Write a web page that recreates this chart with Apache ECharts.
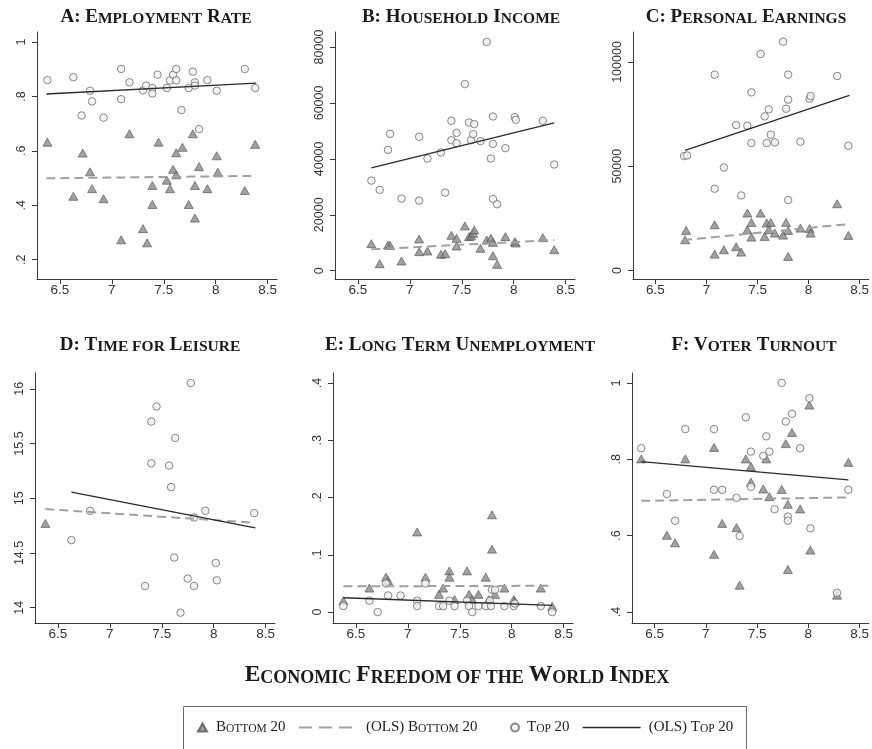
<!DOCTYPE html>
<html><head><meta charset="utf-8">
<script src="https://cdn.jsdelivr.net/npm/echarts@6/dist/echarts.min.js"></script>
<style>html,body{margin:0;padding:0;background:#fff}#c{width:872px;height:749px}</style>
</head><body><div id="c"></div>
<script>
// ---------- data ----------
const xTicks = [6.5, 7, 7.5, 8, 8.5];

const empTicks = [0.2, 0.4, 0.6, 0.8, 1];
const empBottom = [[6.38,0.632],[6.63,0.433],[6.72,0.592],[6.79,0.523],[6.81,0.461],[6.92,0.424],[7.09,0.273],[7.17,0.663],[7.30,0.314],[7.34,0.262],[7.39,0.473],[7.39,0.403],[7.45,0.632],[7.53,0.492],[7.56,0.461],[7.59,0.532],[7.62,0.593],[7.62,0.512],[7.68,0.613],[7.74,0.403],[7.78,0.663],[7.80,0.473],[7.80,0.353],[7.84,0.542],[7.92,0.461],[8.01,0.582],[8.02,0.521],[8.28,0.454],[8.38,0.624]];
const empTop = [[6.38,0.860],[6.63,0.871],[6.71,0.730],[6.79,0.821],[6.81,0.782],[6.92,0.722],[7.09,0.901],[7.09,0.790],[7.17,0.852],[7.30,0.822],[7.33,0.840],[7.39,0.831],[7.39,0.811],[7.44,0.880],[7.53,0.831],[7.56,0.859],[7.59,0.880],[7.62,0.859],[7.62,0.901],[7.67,0.750],[7.74,0.831],[7.78,0.891],[7.80,0.852],[7.80,0.840],[7.84,0.680],[7.92,0.860],[8.01,0.821],[8.28,0.901],[8.38,0.831]];
const empOlsBottom = [[6.37,0.499],[8.39,0.508]];
const empOlsTop = [[6.37,0.809],[8.39,0.849]];

const incTicks = [0, 20000, 40000, 60000, 80000];
const incBottom = [[6.63,9670],[6.71,2510],[6.79,9190],[6.81,9070],[6.92,3460],[7.09,11340],[7.09,6810],[7.17,7040],[7.30,5850],[7.34,6090],[7.40,12660],[7.45,11580],[7.45,8840],[7.53,16000],[7.57,12180],[7.59,12420],[7.61,13370],[7.62,14570],[7.68,8000],[7.74,10980],[7.78,11580],[7.80,10150],[7.80,5370],[7.84,2270],[7.92,12180],[8.01,10390],[8.02,9910],[8.28,11820],[8.39,7520]];
const incTop = [[6.63,32240],[6.71,28900],[6.79,43220],[6.81,48950],[6.92,25790],[7.09,47880],[7.09,25070],[7.17,40120],[7.30,42270],[7.34,27940],[7.40,53610],[7.40,46690],[7.45,49310],[7.45,45610],[7.53,66740],[7.57,53010],[7.59,46690],[7.61,48830],[7.62,52420],[7.68,46330],[7.74,81790],[7.78,40120],[7.80,55160],[7.80,45370],[7.80,25670],[7.84,23760],[7.92,43820],[8.01,54920],[8.02,53970],[8.28,53610],[8.39,37970]];
const incOlsBottom = [[6.63,7640],[8.39,10980]];
const incOlsTop = [[6.63,36780],[8.39,52900]];

const earnTicks = [0, 50000, 100000];
const earnBottom = [[6.79,14720],[6.80,19200],[7.08,21920],[7.08,7840],[7.17,9920],[7.29,11360],[7.34,8800],[7.40,27520],[7.40,19520],[7.44,23040],[7.44,16000],[7.53,27520],[7.57,16320],[7.59,22720],[7.61,19520],[7.63,23040],[7.67,17920],[7.75,16960],[7.78,23040],[7.80,19200],[7.80,6720],[7.92,20320],[8.01,20160],[8.02,17920],[8.28,32000],[8.39,16800]];
const earnTop = [[6.78,54880],[6.81,55200],[7.08,93920],[7.08,39200],[7.17,49440],[7.29,69760],[7.34,36000],[7.40,69440],[7.44,85440],[7.44,61120],[7.53,103840],[7.57,73920],[7.59,61120],[7.61,77280],[7.63,65120],[7.67,61440],[7.75,109760],[7.78,77600],[7.80,93920],[7.80,81920],[7.80,33760],[7.92,61760],[8.01,82400],[8.02,83680],[8.28,93280],[8.39,59840]];
const earnOlsBottom = [[6.77,14560],[8.39,22240]];
const earnOlsTop = [[6.79,57600],[8.40,84000]];

const leisTicks = [14, 14.5, 15, 15.5, 16];
const leisBottom = [[6.38,14.77]];
const leisTop = [[6.63,14.617],[6.81,14.885],[7.34,14.198],[7.40,15.70],[7.40,15.319],[7.45,15.838],[7.57,15.298],[7.59,15.102],[7.62,14.458],[7.63,15.551],[7.68,13.954],[7.75,14.266],[7.78,16.052],[7.81,14.824],[7.81,14.198],[7.92,14.885],[8.02,14.409],[8.03,14.25],[8.39,14.864]];
const leisOlsBottom = [[6.38,14.901],[8.39,14.776]];
const leisOlsTop = [[6.63,15.056],[8.40,14.73]];

const unempTicks = [0, 0.1, 0.2, 0.3, 0.4];
const unempBottom = [[6.38,0.020],[6.63,0.042],[6.79,0.061],[6.81,0.055],[7.09,0.140],[7.17,0.061],[7.30,0.031],[7.34,0.042],[7.40,0.072],[7.40,0.061],[7.45,0.022],[7.57,0.072],[7.59,0.031],[7.62,0.022],[7.68,0.031],[7.75,0.061],[7.78,0.022],[7.81,0.170],[7.81,0.110],[7.84,0.031],[7.93,0.042],[8.02,0.022],[8.03,0.019],[8.28,0.042],[8.39,0.010]];
const unempTop = [[6.38,0.0105],[6.63,0.020],[6.71,0.000],[6.79,0.050],[6.81,0.029],[6.93,0.029],[7.09,0.020],[7.09,0.0105],[7.17,0.050],[7.30,0.0105],[7.34,0.0105],[7.40,0.020],[7.45,0.0105],[7.57,0.020],[7.59,0.0105],[7.62,0.000],[7.68,0.0105],[7.75,0.0105],[7.79,0.020],[7.80,0.0105],[7.81,0.039],[7.84,0.039],[7.93,0.0105],[8.02,0.0105],[8.03,0.015],[8.28,0.0105],[8.39,0.000]];
const unempOlsBottom = [[6.38,0.045],[8.40,0.046]];
const unempOlsTop = [[6.38,0.0251],[8.39,0.0117]];

const voteTicks = [0.4, 0.6, 0.8, 1];
const voteBottom = [[6.37,0.801],[6.62,0.601],[6.70,0.581],[6.80,0.801],[7.08,0.831],[7.08,0.551],[7.16,0.632],[7.30,0.621],[7.33,0.470],[7.39,0.801],[7.44,0.781],[7.44,0.740],[7.56,0.722],[7.59,0.801],[7.62,0.702],[7.74,0.721],[7.78,0.841],[7.80,0.682],[7.80,0.511],[7.84,0.870],[7.92,0.670],[8.01,0.942],[8.02,0.562],[8.28,0.444],[8.39,0.792]];
const voteTop = [[6.37,0.829],[6.62,0.709],[6.70,0.639],[6.80,0.879],[7.08,0.879],[7.08,0.720],[7.16,0.720],[7.30,0.699],[7.33,0.599],[7.39,0.910],[7.44,0.820],[7.44,0.728],[7.56,0.809],[7.59,0.860],[7.62,0.820],[7.67,0.669],[7.74,1.000],[7.78,0.899],[7.80,0.650],[7.80,0.639],[7.84,0.919],[7.92,0.829],[8.01,0.960],[8.02,0.619],[8.28,0.450],[8.39,0.720]];
const voteOlsBottom = [[6.37,0.691],[8.39,0.700]];
const voteOlsTop = [[6.37,0.794],[8.39,0.746]];

const panelTitles = [
  '{b|A: E}{s|MPLOYMENT} {b|R}{s|ATE}',
  '{b|B: H}{s|OUSEHOLD} {b|I}{s|NCOME}',
  '{b|C: P}{s|ERSONAL} {b|E}{s|ARNINGS}',
  '{b|D: T}{s|IME FOR} {b|L}{s|EISURE}',
  '{b|E: L}{s|ONG} {b|T}{s|ERM} {b|U}{s|NEMPLOYMENT}',
  '{b|F: V}{s|OTER} {b|T}{s|URNOUT}'
];
const axisTitle = '{b|E}{s|CONOMIC} {b|F}{s|REEDOM OF THE} {b|W}{s|ORLD} {b|I}{s|NDEX}';

// ---------- layout ----------
const SERIF = "'Liberation Serif','Times New Roman',serif";
const SANS = "'Liberation Sans',Arial,sans-serif";
const panels = [
  {grid:{left:37, top:32, width:240, height:247}, y:[0.129,1.037], ticks:empTicks, b:empBottom, t:empTop, ob:empOlsBottom, ot:empOlsTop, tx:156, ty:8},
  {grid:{left:335, top:32, width:240, height:247}, y:[-2970,85370], ticks:incTicks, b:incBottom, t:incTop, ob:incOlsBottom, ot:incOlsTop, tx:461, ty:8},
  {grid:{left:633, top:32, width:240, height:247}, y:[-4100,114400], ticks:earnTicks, b:earnBottom, t:earnTop, ob:earnOlsBottom, ot:earnOlsTop, tx:746, ty:8},
  {grid:{left:35, top:373, width:240, height:250}, y:[13.86,16.144], ticks:leisTicks, b:leisBottom, t:leisTop, ob:leisOlsBottom, ot:leisOlsTop, tx:150, ty:336},
  {grid:{left:333, top:373, width:240, height:250}, y:[-0.019,0.4175], ticks:unempTicks, b:unempBottom, t:unempTop, ob:unempOlsBottom, ot:unempOlsTop, tx:460, ty:336},
  {grid:{left:632, top:373, width:240, height:250}, y:[0.371,1.026], ticks:voteTicks, b:voteBottom, t:voteTop, ob:voteOlsBottom, ot:voteOlsTop, tx:754, ty:336}
];

const fmt = v => String(+v.toFixed(6)).replace(/^0\./, '.').replace(/^-0\./, '-.');
const axisLineStyle = {color:'#3a3a3a', width:1};

const grids = [], xAxes = [], yAxes = [], series = [], titles = [];
panels.forEach((p, i) => {
  grids.push(Object.assign({containLabel:false}, p.grid));
  xAxes.push({
    type:'value', gridIndex:i, min:6.28, max:8.59,
    axisLine:{show:true, onZero:false, lineStyle:axisLineStyle},
    axisTick:{show:true, length:5, customValues:xTicks, lineStyle:axisLineStyle},
    axisLabel:{show:true, customValues:xTicks, margin:4, formatter:fmt, color:'#333', fontSize:13.5, fontFamily:SANS},
    splitLine:{show:false}
  });
  yAxes.push({
    type:'value', gridIndex:i, min:p.y[0], max:p.y[1],
    axisLine:{show:true, onZero:false, lineStyle:axisLineStyle},
    axisTick:{show:true, length:5, customValues:p.ticks, lineStyle:axisLineStyle},
    axisLabel:{show:true, customValues:p.ticks, rotate:90, margin:9, formatter:fmt, color:'#333', fontSize:12.5, fontFamily:SANS},
    splitLine:{show:false}
  });
  series.push({
    name:'Bottom 20', type:'scatter', xAxisIndex:i, yAxisIndex:i, data:p.b,
    symbol:'triangle', symbolSize:[9,8],
    itemStyle:{color:'#8a8a8a', borderColor:'#505050', borderWidth:0.8}, z:2
  });
  series.push({
    name:'Top 20', type:'scatter', xAxisIndex:i, yAxisIndex:i, data:p.t,
    symbol:'circle', symbolSize:7.5,
    itemStyle:{color:'#f0f0f0', borderColor:'#6a6a6a', borderWidth:1}, z:3
  });
  series.push({
    name:'(OLS) Bottom 20', type:'line', xAxisIndex:i, yAxisIndex:i, data:p.ob,
    symbol:'none', itemStyle:{color:'#a0a0a0'},
    lineStyle:{color:'#a0a0a0', width:2, type:[9,5]}, z:4
  });
  series.push({
    name:'(OLS) Top 20', type:'line', xAxisIndex:i, yAxisIndex:i, data:p.ot,
    symbol:'none', itemStyle:{color:'#2a2a2a'},
    lineStyle:{color:'#2a2a2a', width:1.3}, z:5
  });
  titles.push({
    text:panelTitles[i], left:p.tx, top:p.ty, textAlign:'center', padding:0,
    textStyle:{rich:{
      b:{fontFamily:SERIF, fontSize:19, fontWeight:'bold', color:'#1a1a1a', verticalAlign:'bottom'},
      s:{fontFamily:SERIF, fontSize:15.5, fontWeight:'bold', color:'#1a1a1a', verticalAlign:'bottom'}
    }}
  });
});
titles.push({
  text:axisTitle, left:457, top:663, textAlign:'center', padding:0,
  textStyle:{rich:{
    b:{fontFamily:SERIF, fontSize:23.5, color:'#1a1a1a', verticalAlign:'bottom'},
    s:{fontFamily:SERIF, fontSize:18, color:'#1a1a1a', verticalAlign:'bottom'}
  }}
});

const legendFmt = {
  'Bottom 20':'{b|B}{s|OTTOM}{b| 20}',
  '(OLS) Bottom 20':'{b|(OLS) B}{s|OTTOM}{b| 20}',
  'Top 20':'{b|T}{s|OP}{b| 20}',
  '(OLS) Top 20':'{b|(OLS) T}{s|OP}{b| 20}'
};
const legendText = pad => ({
  padding:[0,0,0,pad],
  rich:{
    b:{fontFamily:SERIF, fontSize:15, color:'#222', verticalAlign:'bottom'},
    s:{fontFamily:SERIF, fontSize:11.5, color:'#222', verticalAlign:'bottom'}
  }
});
const hiddenSym = {color:'rgba(0,0,0,0)', borderColor:'rgba(0,0,0,0)', borderWidth:0};
const legends = [
  {data:['Bottom 20'], left:197, top:720, itemWidth:9, itemHeight:8, padding:0,
   selectedMode:false, formatter:n => legendFmt[n], textStyle:legendText(4)},
  {data:['(OLS) Bottom 20'], left:298, top:720, itemWidth:55, itemHeight:14, padding:0,
   selectedMode:false, formatter:n => legendFmt[n], textStyle:legendText(7),
   itemStyle:hiddenSym, lineStyle:{color:'#a0a0a0', width:2, type:[13,7]}},
  {data:['Top 20'], left:510, top:720, itemWidth:8, itemHeight:8, padding:0,
   selectedMode:false, formatter:n => legendFmt[n], textStyle:legendText(3)},
  {data:['(OLS) Top 20'], left:582, top:720, itemWidth:58, itemHeight:14, padding:0,
   selectedMode:false, formatter:n => legendFmt[n], textStyle:legendText(3),
   itemStyle:hiddenSym, lineStyle:{color:'#2a2a2a', width:1.3}}
];

const option = {
  animation:false,
  backgroundColor:'#fff',
  title:titles,
  grid:grids, xAxis:xAxes, yAxis:yAxes, series:series,
  legend:legends,
  graphic:[{
    type:'rect', shape:{x:183.5, y:706.5, width:563, height:60},
    style:{fill:'none', stroke:'#6a6a6a', lineWidth:1}, silent:true, z:-1
  }]
};
const chart = echarts.init(document.getElementById('c'), null, {renderer:'canvas'});
chart.setOption(option);
</script>
</body></html>
